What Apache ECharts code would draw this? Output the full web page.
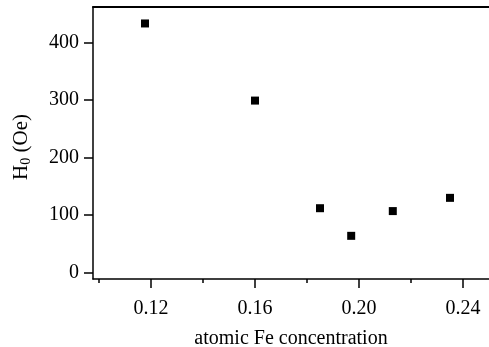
<!DOCTYPE html>
<html><head><meta charset="utf-8">
<script src="https://cdn.jsdelivr.net/npm/echarts@6/dist/echarts.min.js"></script>
<style>html,body{margin:0;padding:0;background:#fff}#c{width:489px;height:347px}</style>
</head><body><div id="c"></div>
<script>
const feConc = [0.1177, 0.160, 0.185, 0.197, 0.213, 0.235];
const h0 = [433, 299, 112, 64, 107, 130];
const xMajorTicks = [0.12, 0.16, 0.20, 0.24];
const xMinorTicks = [0.10, 0.14, 0.18, 0.22];
const yTicks = [0, 100, 200, 300, 400];

const font = "'Liberation Serif','Times New Roman',serif";
const chart = echarts.init(document.getElementById('c'));
const axisLineStyle = {color:'#000', width:1.5};
chart.setOption({
  animation:false,
  grid:{left:93, right:0, top:7, bottom:68, containLabel:false, outerBoundsMode:'none'},
  xAxis:[{
    type:'value', min:0.0977, max:0.25, position:'bottom',
    name:'atomic Fe concentration', nameLocation:'middle', nameGap:50,
    nameTextStyle:{fontFamily:font, fontSize:20, color:'#000'},
    axisLine:{show:true, onZero:false, lineStyle:axisLineStyle},
    axisTick:{show:true, length:9, inside:false, lineStyle:{color:'#000', width:1.5}, customValues:xMajorTicks},
    axisLabel:{show:true, fontFamily:font, fontSize:20, color:'#000', margin:20, customValues:xMajorTicks,
      formatter:v=>v.toFixed(2)},
    splitLine:{show:false}
  },{
    type:'value', min:0.0977, max:0.25, position:'bottom',
    axisLine:{show:false, onZero:false},
    axisTick:{show:true, length:4, lineStyle:{color:'#000', width:1.5}, customValues:xMinorTicks},
    axisLabel:{show:false}, splitLine:{show:false}
  },{
    type:'value', min:0.0977, max:0.25, position:'top',
    axisLine:{show:true, onZero:false, lineStyle:{color:'#000', width:2}},
    axisTick:{show:false}, axisLabel:{show:false}, splitLine:{show:false}
  }],
  yAxis:[{
    type:'value', min:-11, max:461.6, position:'left',
    name:'{m|H}{s|0}{m| (Oe)}', nameLocation:'middle', nameGap:60, nameRotate:90,
    nameTextStyle:{padding:[0,8,0,0], rich:{m:{fontFamily:font, fontSize:21, color:'#000'}, s:{fontFamily:font, fontSize:14, color:'#000', verticalAlign:'bottom', padding:[9,0,0,0]}}},
    axisLine:{show:true, onZero:false, lineStyle:axisLineStyle},
    axisTick:{show:true, length:9, lineStyle:{color:'#000', width:1.5}, customValues:yTicks},
    axisLabel:{show:true, fontFamily:font, fontSize:20, color:'#000', margin:14, customValues:yTicks},
    splitLine:{show:false}
  }],
  series:[{
    type:'scatter', xAxisIndex:0, yAxisIndex:0,
    symbol:'rect', symbolSize:8,
    itemStyle:{color:'#000', opacity:1},
    data: feConc.map((x,i)=>[x, h0[i]])
  }]
});
</script></body></html>
